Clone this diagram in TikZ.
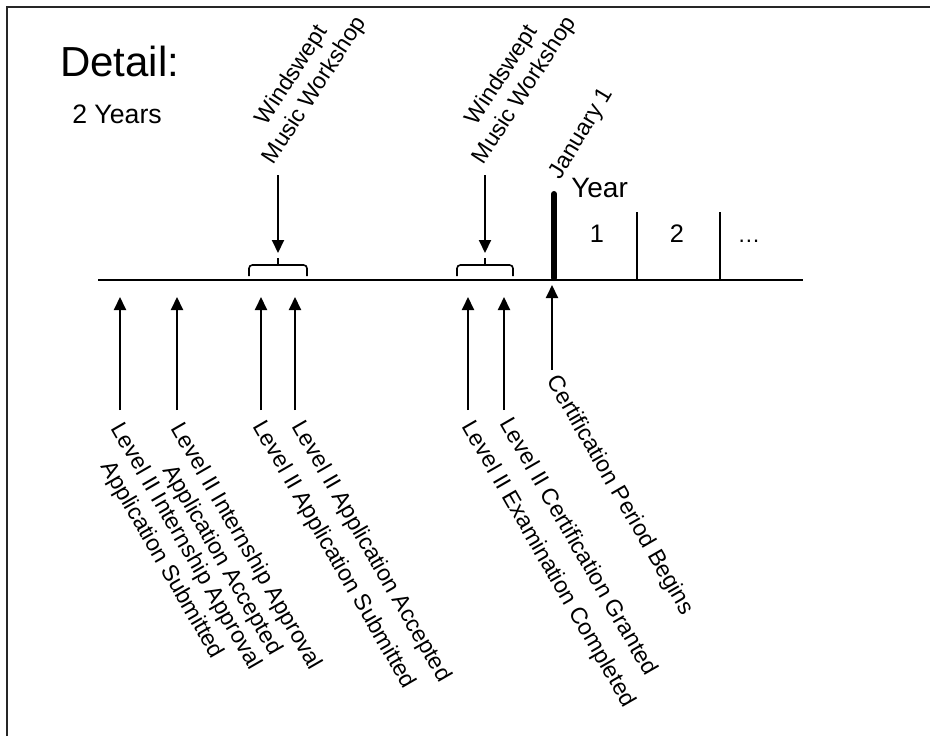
\documentclass[tikz,border=0pt]{standalone}
\usepackage{fontspec}
\setmainfont{Liberation Sans}
\usetikzlibrary{arrows.meta}
\begin{document}
\begin{tikzpicture}[x=0.75pt,y=-0.75pt,
  lbl/.style={font=\fontsize{17.3}{20.5}\selectfont, align=center, inner sep=0pt},
  uparrow/.style={line width=1.5pt, -{Triangle[length=9.75pt,width=9pt]}},
  frame/.style={line width=1.6pt, draw=black!85},
  axis/.style={line width=2.2pt},
  brace/.style={line width=1.2pt, rounded corners=2.5pt},
  divider/.style={line width=1.7pt},
  plain/.style={inner sep=0pt}]
\useasboundingbox (0,0) rectangle (930,736);
% frame (top and left edges visible)
\draw[frame] (7,736) -- (7,7) -- (930,7);
% headings
\node[plain, anchor=base west, font=\fontsize{31.5}{36}\selectfont] (detail) at (60,76) {Detail:};
\node[plain, anchor=base west, font=\fontsize{20}{24}\selectfont] (years) at (72,123) {2 Years};
% timeline
\coordinate (tl0) at (98,280);
\coordinate (tl1) at (803,280);
\draw[axis] (tl0) -- (tl1);
% braces
\draw[brace] (249,276) -- (249,265) -- (307,265) -- (307,276);
\draw[brace] (278,265) -- (278,258);
\draw[brace] (457,276) -- (457,265) -- (513,265) -- (513,276);
\draw[brace] (485,265) -- (485,258);
% workshop labels and arrows
\node[lbl, rotate=57, anchor=south west] (ws1) at (278,168) {Windswept\\Music Workshop};
\node[lbl, rotate=57, anchor=south west] (ws2) at (488,168) {Windswept\\Music Workshop};
\coordinate (w1s) at (278,175); \coordinate (w1e) at (278,253);
\coordinate (w2s) at (485,175); \coordinate (w2e) at (485,253);
\draw[uparrow] (w1s) -- (w1e);
\draw[uparrow] (w2s) -- (w2e);
% January 1 bar
\node[lbl, rotate=59, anchor=south west] (jan) at (565,183) {January 1};
\coordinate (j0) at (554,194); \coordinate (j1) at (554,278);
\draw[line width=4.5pt, line cap=round] (j0) -- (j1);
% years
\node[plain, anchor=base west, font=\fontsize{21}{25}\selectfont] (yr) at (571,197) {Year};
\coordinate (d1a) at (637,212); \coordinate (d1b) at (637,280);
\coordinate (d2a) at (720,212); \coordinate (d2b) at (720,280);
\draw[divider] (d1a) -- (d1b);
\draw[divider] (d2a) -- (d2b);
\node[plain, anchor=base, font=\fontsize{19}{22}\selectfont] (y1) at (597,242) {1};
\node[plain, anchor=base, font=\fontsize{19}{22}\selectfont] (y2) at (677,242) {2};
\node[plain, anchor=base, font=\fontsize{17}{20}\selectfont] (y3) at (749,242) {\dots};
% up arrows
\foreach \n/\x in {1/120,2/177,3/261,4/295,5/468,6/504}{
  \coordinate (b\n) at (\x,410);
  \coordinate (t\n) at (\x,297);
  \draw[uparrow] (b\n) -- (t\n);
}
\coordinate (b7) at (552,370); \coordinate (t7) at (552,285);
\draw[uparrow] (b7) -- (t7);
% bottom labels
\node[lbl, rotate=-60, anchor=north west] (l1) at (125,420) {Level II Internship Approval\\Application Submitted};
\node[lbl, rotate=-60, anchor=north west] (l2) at (185,420) {Level II Internship Approval\\Application Accepted};
\node[lbl, rotate=-60, anchor=north west] (l3) at (267,418) {Level II Application Submitted};
\node[lbl, rotate=-60, anchor=north west] (l4) at (306,418) {Level II Application Accepted};
\node[lbl, rotate=-60, anchor=north west] (l5) at (476,418) {Level II Examination Completed};
\node[lbl, rotate=-60, anchor=north west] (l6) at (514,415) {Level II Certification Granted};
\node[lbl, rotate=-60, anchor=north west] (l7) at (561,372) {Certification Period Begins};
\end{tikzpicture}
\end{document}
